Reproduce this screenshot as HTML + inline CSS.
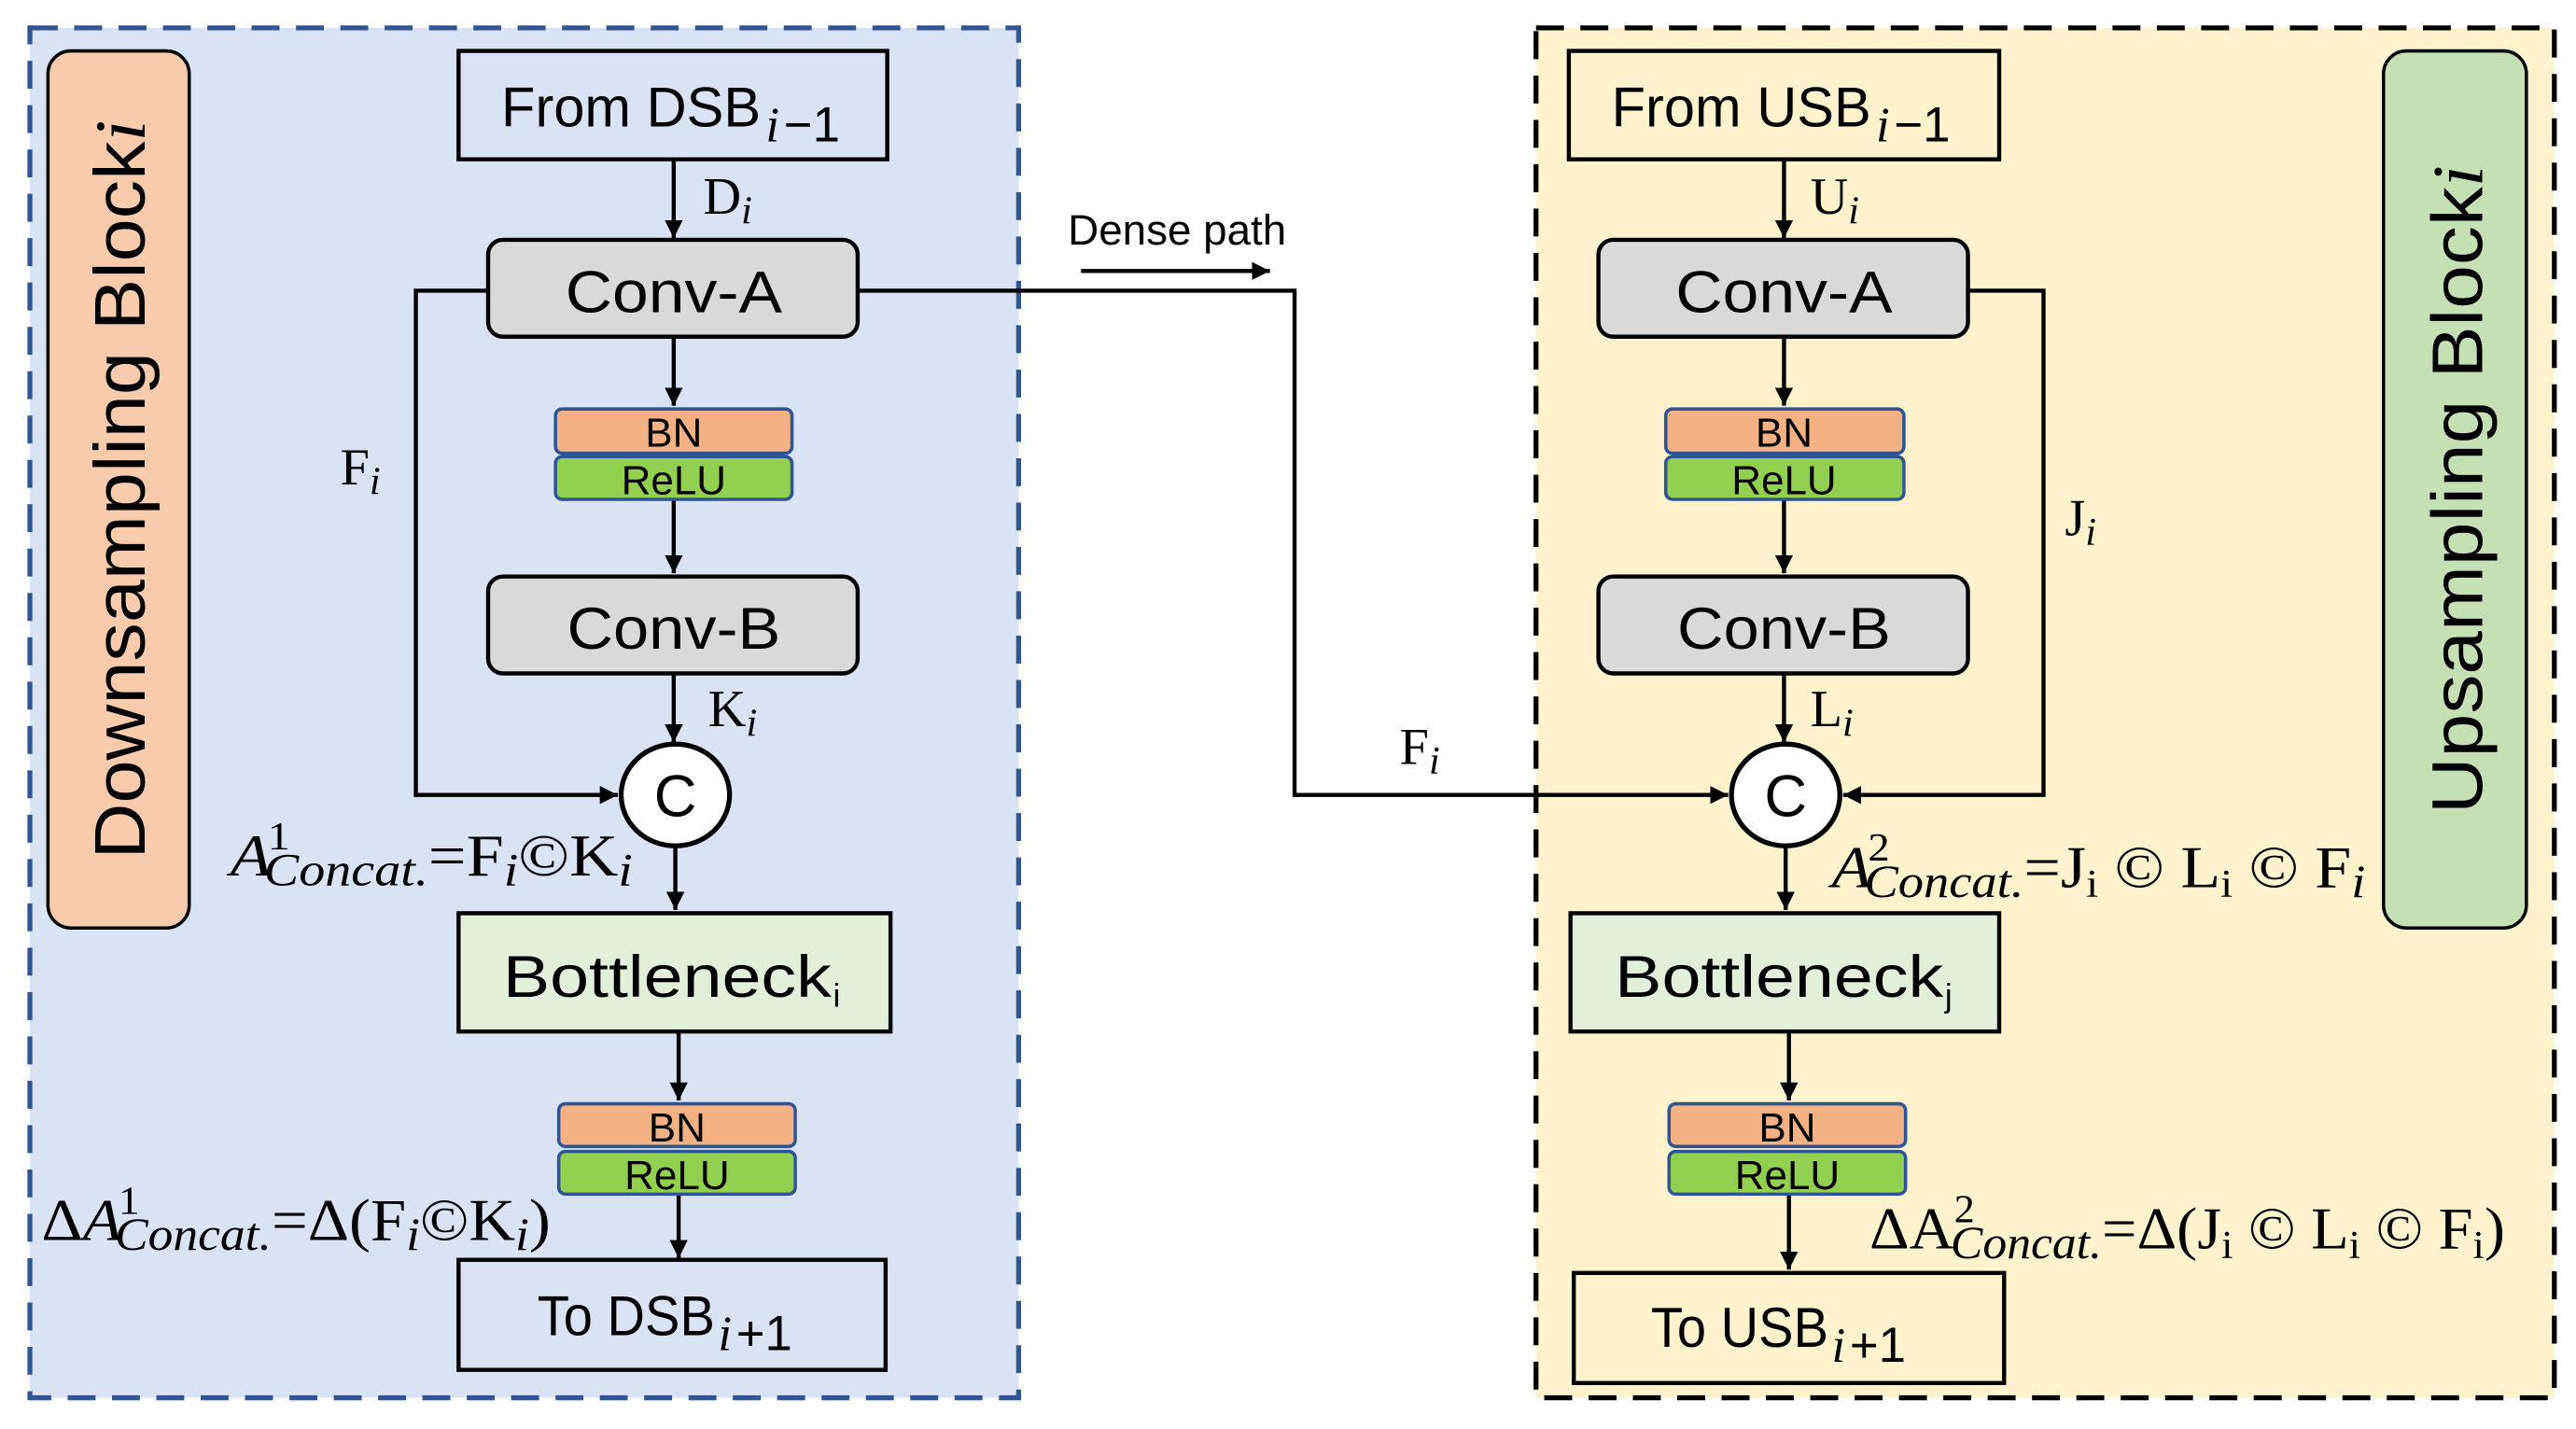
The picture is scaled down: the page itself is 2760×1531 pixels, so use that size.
<!DOCTYPE html>
<html><head><meta charset="utf-8"><style>
html,body{margin:0;padding:0;background:#fff;}
svg{display:block;}
.s{font-family:"Liberation Sans",sans-serif;fill:#000;}
.m{font-family:"Liberation Serif",serif;fill:#000;}
</style></head><body>
<svg width="2760" height="1531" viewBox="0 0 1568 870" xmlns="http://www.w3.org/2000/svg">
<defs>
<marker id="a" viewBox="0 0 10 10" refX="10" refY="5" markerWidth="11" markerHeight="11" orient="auto" markerUnits="userSpaceOnUse">
<path d="M0,0 L10,5 L0,10 z" fill="#000"/></marker>
</defs>
<rect width="1568" height="870" fill="#fff"/>
<rect x="18" y="17" width="602" height="834" fill="#dae3f3" stroke="#2f5597" stroke-width="3" stroke-dasharray="17,10"/>
<rect x="935" y="17" width="620" height="834" fill="#fff2cc" stroke="#000" stroke-width="3" stroke-dasharray="17,10"/>
<rect x="29" y="31" width="86" height="534" rx="14" fill="#f8cbad" stroke="#000" stroke-width="2"/>
<rect x="1451" y="31" width="87" height="534" rx="14" fill="#c5e0b4" stroke="#000" stroke-width="2"/>
<text class="s" transform="translate(88,298) rotate(-90)" text-anchor="middle" font-size="44" textLength="450" lengthAdjust="spacingAndGlyphs">Downsampling Block<tspan class="m" font-style="italic">i</tspan></text>
<text class="s" transform="translate(1511,298) rotate(-90)" text-anchor="middle" font-size="44" textLength="395" lengthAdjust="spacingAndGlyphs">Upsampling Block<tspan class="m" font-style="italic">i</tspan></text>

<g stroke="#000" stroke-width="2.5" fill="none">
<rect x="279" y="31" width="261" height="66"/>
<line x1="410" y1="97" x2="410" y2="145" marker-end="url(#a)"/>
<rect x="297" y="146" width="225" height="59" rx="9" fill="#d9d9d9"/>
<line x1="410" y1="205" x2="410" y2="247" marker-end="url(#a)"/>
<line x1="410" y1="304" x2="410" y2="349" marker-end="url(#a)"/>
<rect x="297" y="351" width="225" height="59" rx="9" fill="#d9d9d9"/>
<ellipse cx="411" cy="484" rx="33" ry="31" fill="#fff" stroke-width="3"/>
<line x1="410" y1="410" x2="410" y2="452" marker-end="url(#a)"/>
<polyline points="297,177 253,177 253,484 376,484" marker-end="url(#a)"/>
<line x1="411" y1="515" x2="411" y2="554" marker-end="url(#a)"/>
<rect x="279" y="556" width="263" height="72" fill="#e2efda"/>
<line x1="413" y1="628" x2="413" y2="670" marker-end="url(#a)"/>
<line x1="413" y1="727" x2="413" y2="766" marker-end="url(#a)"/>
<rect x="279" y="767" width="260" height="67"/>
<polyline points="522,177 788,177 788,484 1052,484" marker-end="url(#a)"/>
<line x1="658" y1="165" x2="773" y2="165" marker-end="url(#a)"/>
<rect x="955" y="31" width="262" height="66"/>
<line x1="1086" y1="97" x2="1086" y2="145" marker-end="url(#a)"/>
<rect x="973" y="146" width="225" height="59" rx="9" fill="#d9d9d9"/>
<line x1="1086" y1="205" x2="1086" y2="247" marker-end="url(#a)"/>
<line x1="1086" y1="304" x2="1086" y2="349" marker-end="url(#a)"/>
<rect x="973" y="351" width="225" height="59" rx="9" fill="#d9d9d9"/>
<ellipse cx="1087" cy="484" rx="33" ry="31" fill="#fff" stroke-width="3"/>
<line x1="1086" y1="410" x2="1086" y2="452" marker-end="url(#a)"/>
<polyline points="1198,177 1244,177 1244,484 1122,484" marker-end="url(#a)"/>
<line x1="1087" y1="515" x2="1087" y2="554" marker-end="url(#a)"/>
<rect x="956" y="556" width="261" height="72" fill="#e2efda"/>
<line x1="1089" y1="628" x2="1089" y2="670" marker-end="url(#a)"/>
<line x1="1089" y1="727" x2="1089" y2="773" marker-end="url(#a)"/>
<rect x="958" y="775" width="262" height="67"/>
</g>
<g stroke="#2f5597" stroke-width="2">
<rect x="338" y="249" width="144" height="27" rx="4" fill="#f4b183"/>
<rect x="338" y="278" width="144" height="26" rx="4" fill="#92d050"/>
<rect x="340" y="672" width="144" height="26" rx="4" fill="#f4b183"/>
<rect x="340" y="701" width="144" height="26" rx="4" fill="#92d050"/>
<rect x="1014" y="249" width="145" height="27" rx="4" fill="#f4b183"/>
<rect x="1014" y="278" width="145" height="26" rx="4" fill="#92d050"/>
<rect x="1016" y="672" width="144" height="26" rx="4" fill="#f4b183"/>
<rect x="1016" y="701" width="144" height="26" rx="4" fill="#92d050"/>
</g>
<g class="s" font-size="25" text-anchor="middle">
<text x="410" y="272">BN</text><text x="410" y="301">ReLU</text>
<text x="412" y="695">BN</text><text x="412" y="724">ReLU</text>
<text x="1086" y="272">BN</text><text x="1086" y="301">ReLU</text>
<text x="1088" y="695">BN</text><text x="1088" y="724">ReLU</text>
</g>
<g class="s" font-size="36" text-anchor="middle">
<text x="410" y="190" textLength="132" lengthAdjust="spacingAndGlyphs">Conv-A</text>
<text x="410" y="395" textLength="130" lengthAdjust="spacingAndGlyphs">Conv-B</text>
<text x="1086" y="190" textLength="132" lengthAdjust="spacingAndGlyphs">Conv-A</text>
<text x="1086" y="395" textLength="130" lengthAdjust="spacingAndGlyphs">Conv-B</text>
<text x="411" y="497">C</text>
<text x="1087" y="497">C</text>
</g>
<g class="s" font-size="34">
<text x="305" y="77" textLength="158" lengthAdjust="spacingAndGlyphs">From DSB</text><text class="m" x="466" y="86" font-size="30" font-style="italic">i</text><text x="477" y="86" font-size="30">−1</text>
<text x="981" y="77" textLength="158" lengthAdjust="spacingAndGlyphs">From USB</text><text class="m" x="1142" y="86" font-size="30" font-style="italic">i</text><text x="1153" y="86" font-size="30">−1</text>
<text x="306" y="607" font-size="36" textLength="200" lengthAdjust="spacingAndGlyphs">Bottleneck</text><text x="507" y="613" font-size="20">i</text>
<text x="983" y="607" font-size="36" textLength="200" lengthAdjust="spacingAndGlyphs">Bottleneck</text><text x="1184" y="613" font-size="20">j</text>
<text x="327" y="813" textLength="108" lengthAdjust="spacingAndGlyphs">To DSB</text><text class="m" x="437" y="822" font-size="30" font-style="italic">i</text><text x="448" y="822" font-size="30">+1</text>
<text x="1005" y="820" textLength="108" lengthAdjust="spacingAndGlyphs">To USB</text><text class="m" x="1115" y="829" font-size="30" font-style="italic">i</text><text x="1126" y="829" font-size="30">+1</text>
<text x="650" y="149" font-size="26">Dense path</text>
</g>
<g class="m" font-size="32">
<text x="428" y="130">D<tspan font-size="24" font-style="italic" dy="6">i</tspan></text>
<text x="431" y="442">K<tspan font-size="24" font-style="italic" dy="6">i</tspan></text>
<text x="207" y="295">F<tspan font-size="24" font-style="italic" dy="6">i</tspan></text>
<text x="852" y="465">F<tspan font-size="24" font-style="italic" dy="6">i</tspan></text>
<text x="1102" y="130">U<tspan font-size="24" font-style="italic" dy="6">i</tspan></text>
<text x="1102" y="442">L<tspan font-size="24" font-style="italic" dy="6">i</tspan></text>
<text x="1257" y="326">J<tspan font-size="24" font-style="italic" dy="6">i</tspan></text>
</g>
<g class="m" font-size="36">
<text x="140" y="533" textLength="245" lengthAdjust="spacingAndGlyphs"><tspan font-style="italic">A</tspan><tspan font-size="24" dy="-16" dx="-2">1</tspan><tspan font-size="28" font-style="italic" dy="22" dx="-14">Concat.</tspan><tspan dy="-6">=F</tspan><tspan font-size="28" font-style="italic" dy="6">i</tspan><tspan dy="-6">©K</tspan><tspan font-size="28" font-style="italic" dy="6">i</tspan></text>
<text x="25" y="755" textLength="310" lengthAdjust="spacingAndGlyphs">Δ<tspan font-style="italic">A</tspan><tspan font-size="24" dy="-16" dx="-2">1</tspan><tspan font-size="28" font-style="italic" dy="22" dx="-14">Concat.</tspan><tspan dy="-6">=Δ(F</tspan><tspan font-size="28" font-style="italic" dy="6">i</tspan><tspan dy="-6">©K</tspan><tspan font-size="28" font-style="italic" dy="6">i</tspan><tspan dy="-6">)</tspan></text>
<text x="1115" y="540" textLength="325" lengthAdjust="spacingAndGlyphs"><tspan font-style="italic">A</tspan><tspan font-size="24" dy="-16" dx="-2">2</tspan><tspan font-size="28" font-style="italic" dy="22" dx="-14">Concat.</tspan><tspan dy="-6">=J</tspan><tspan font-size="24" dy="6">i</tspan><tspan dy="-6"> © L</tspan><tspan font-size="24" dy="6">i</tspan><tspan dy="-6"> © F</tspan><tspan font-size="28" font-style="italic" dy="6">i</tspan></text>
<text x="1138" y="760" textLength="387" lengthAdjust="spacingAndGlyphs">ΔA<tspan font-size="24" dy="-16">2</tspan><tspan font-size="28" font-style="italic" dy="22" dx="-14">Concat.</tspan><tspan dy="-6">=Δ(J</tspan><tspan font-size="24" dy="6">i</tspan><tspan dy="-6"> © L</tspan><tspan font-size="24" dy="6">i</tspan><tspan dy="-6"> © F</tspan><tspan font-size="24" dy="6">i</tspan><tspan dy="-6">)</tspan></text>
</g>
</svg>
</body></html>
